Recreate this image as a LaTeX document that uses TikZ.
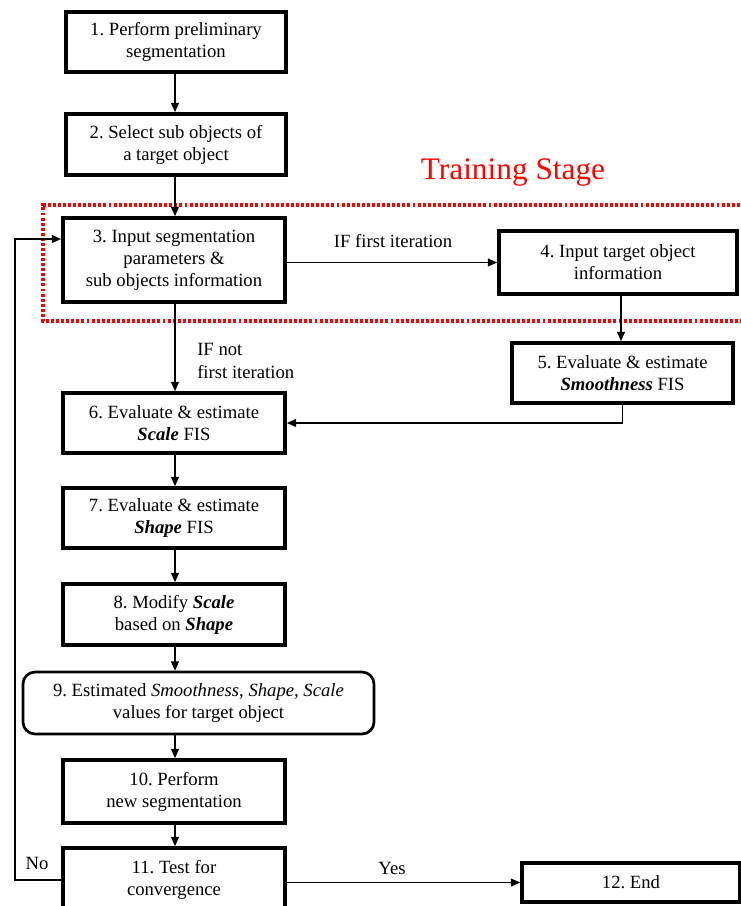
\documentclass[tikz,border=0pt]{standalone}
\usepackage{fontspec}
\setmainfont{Liberation Serif}
\usetikzlibrary{arrows.meta}
\frenchspacing
\begin{document}
\begin{tikzpicture}[x=0.75pt,y=-0.75pt,
  box/.style={draw,line width=2.8pt,align=center,font=\fontsize{14pt}{16.5pt}\selectfont,inner sep=0pt},
  lbl/.style={font=\fontsize{14pt}{17pt}\selectfont,inner sep=0pt},
  conn/.style={line width=0.9pt,-{Triangle[length=7pt,width=6pt]}},
  bx/.style n args={2}{box,minimum width=#1*0.75pt,minimum height=#2*0.75pt}]
\useasboundingbox (0,0) rectangle (741,906);
\clip (0,0) rectangle (741,906);
% training stage region
\draw[red,line width=2.6pt,dash pattern=on 2.2pt off 1.6pt] (760,205) -- (43,205) -- (43,321) -- (760,321);
\node[text=red,font=\fontsize{23.5pt}{26pt}\selectfont,inner sep=0pt] (ts) at (513,173) {Training Stage};
% boxes
\node[bx={220}{60}] (b1) at (176,42) {1. Perform preliminary\\segmentation};
\node[bx={220}{61}] (b2) at (176,144.5) {2. Select sub objects of\\a target object};
\node[bx={222}{84}] (b3) at (174,260) {3. Input segmentation\\parameters \&\\sub objects information};
\node[bx={238}{63}] (b4) at (618,262.5) {4. Input target object\\information};
\node[bx={221}{60}] (b5) at (622.5,373) {5. Evaluate \& estimate\\\textbf{\textit{Smoothness}} FIS};
\node[bx={222}{60}] (b6) at (174,423) {6. Evaluate \& estimate\\\textbf{\textit{Scale}} FIS};
\node[bx={222}{60}] (b7) at (174,518) {7. Evaluate \& estimate\\\textbf{\textit{Shape}} FIS};
\node[bx={222}{61}] (b8) at (174,614.5) {8. Modify \textbf{\textit{Scale}}\\based on \textbf{\textit{Shape}}};
\node[bx={351}{62},line width=2pt,rounded corners=9pt] (b9) at (198.5,703) {9. Estimated \textit{Smoothness}, \textit{Shape, Scale}\\values for target object};
\node[bx={222}{63}] (b10) at (174,791.5) {10. Perform\\new segmentation};
\node[bx={222}{64}] (b11) at (174,880) {11. Test for\\convergence};
\node[bx={218}{39}] (b12) at (631,882.5) {12. End};
% connectors
\draw[conn] (b1.south -| 175,0) -- (b2.north -| 175,0);
\draw[conn] (b2.south -| 175,0) -- (b3.north -| 175,0);
\draw[conn] (b3.east |- b4.west) -- (b4.west);
\draw[conn] (b4.south -| 621,0) -- (b5.north -| 621,0);
\draw[conn] (b3.south -| 175,0) -- (b6.north -| 175,0);
\draw[conn] (b5.south) |- (b6.east);
\draw[conn] (b6.south -| 175,0) -- (b7.north -| 175,0);
\draw[conn] (b7.south -| 175,0) -- (b8.north -| 175,0);
\draw[conn] (b8.south -| 175,0) -- (b9.north -| 175,0);
\draw[conn] (b9.south -| 175,0) -- (b10.north -| 175,0);
\draw[conn] (b10.south -| 175,0) -- (b11.north -| 175,0);
\coordinate (fb1) at (15,880);
\coordinate (fb2) at (15,239);
\draw[conn] (b11.west) -- (fb1) -- (fb2) -- (b3.west |- fb2);
\draw[conn] (b11.east |- b12.west) -- (b12.west);
% labels
\node[lbl] (l1) at (393,241) {IF first iteration};
\node[lbl,align=left,anchor=west] (l2) at (197,361) {IF not\\first iteration};
\node[lbl] (l3) at (37,863) {No};
\node[lbl] (l4) at (392,868) {Yes};
\end{tikzpicture}
\end{document}
